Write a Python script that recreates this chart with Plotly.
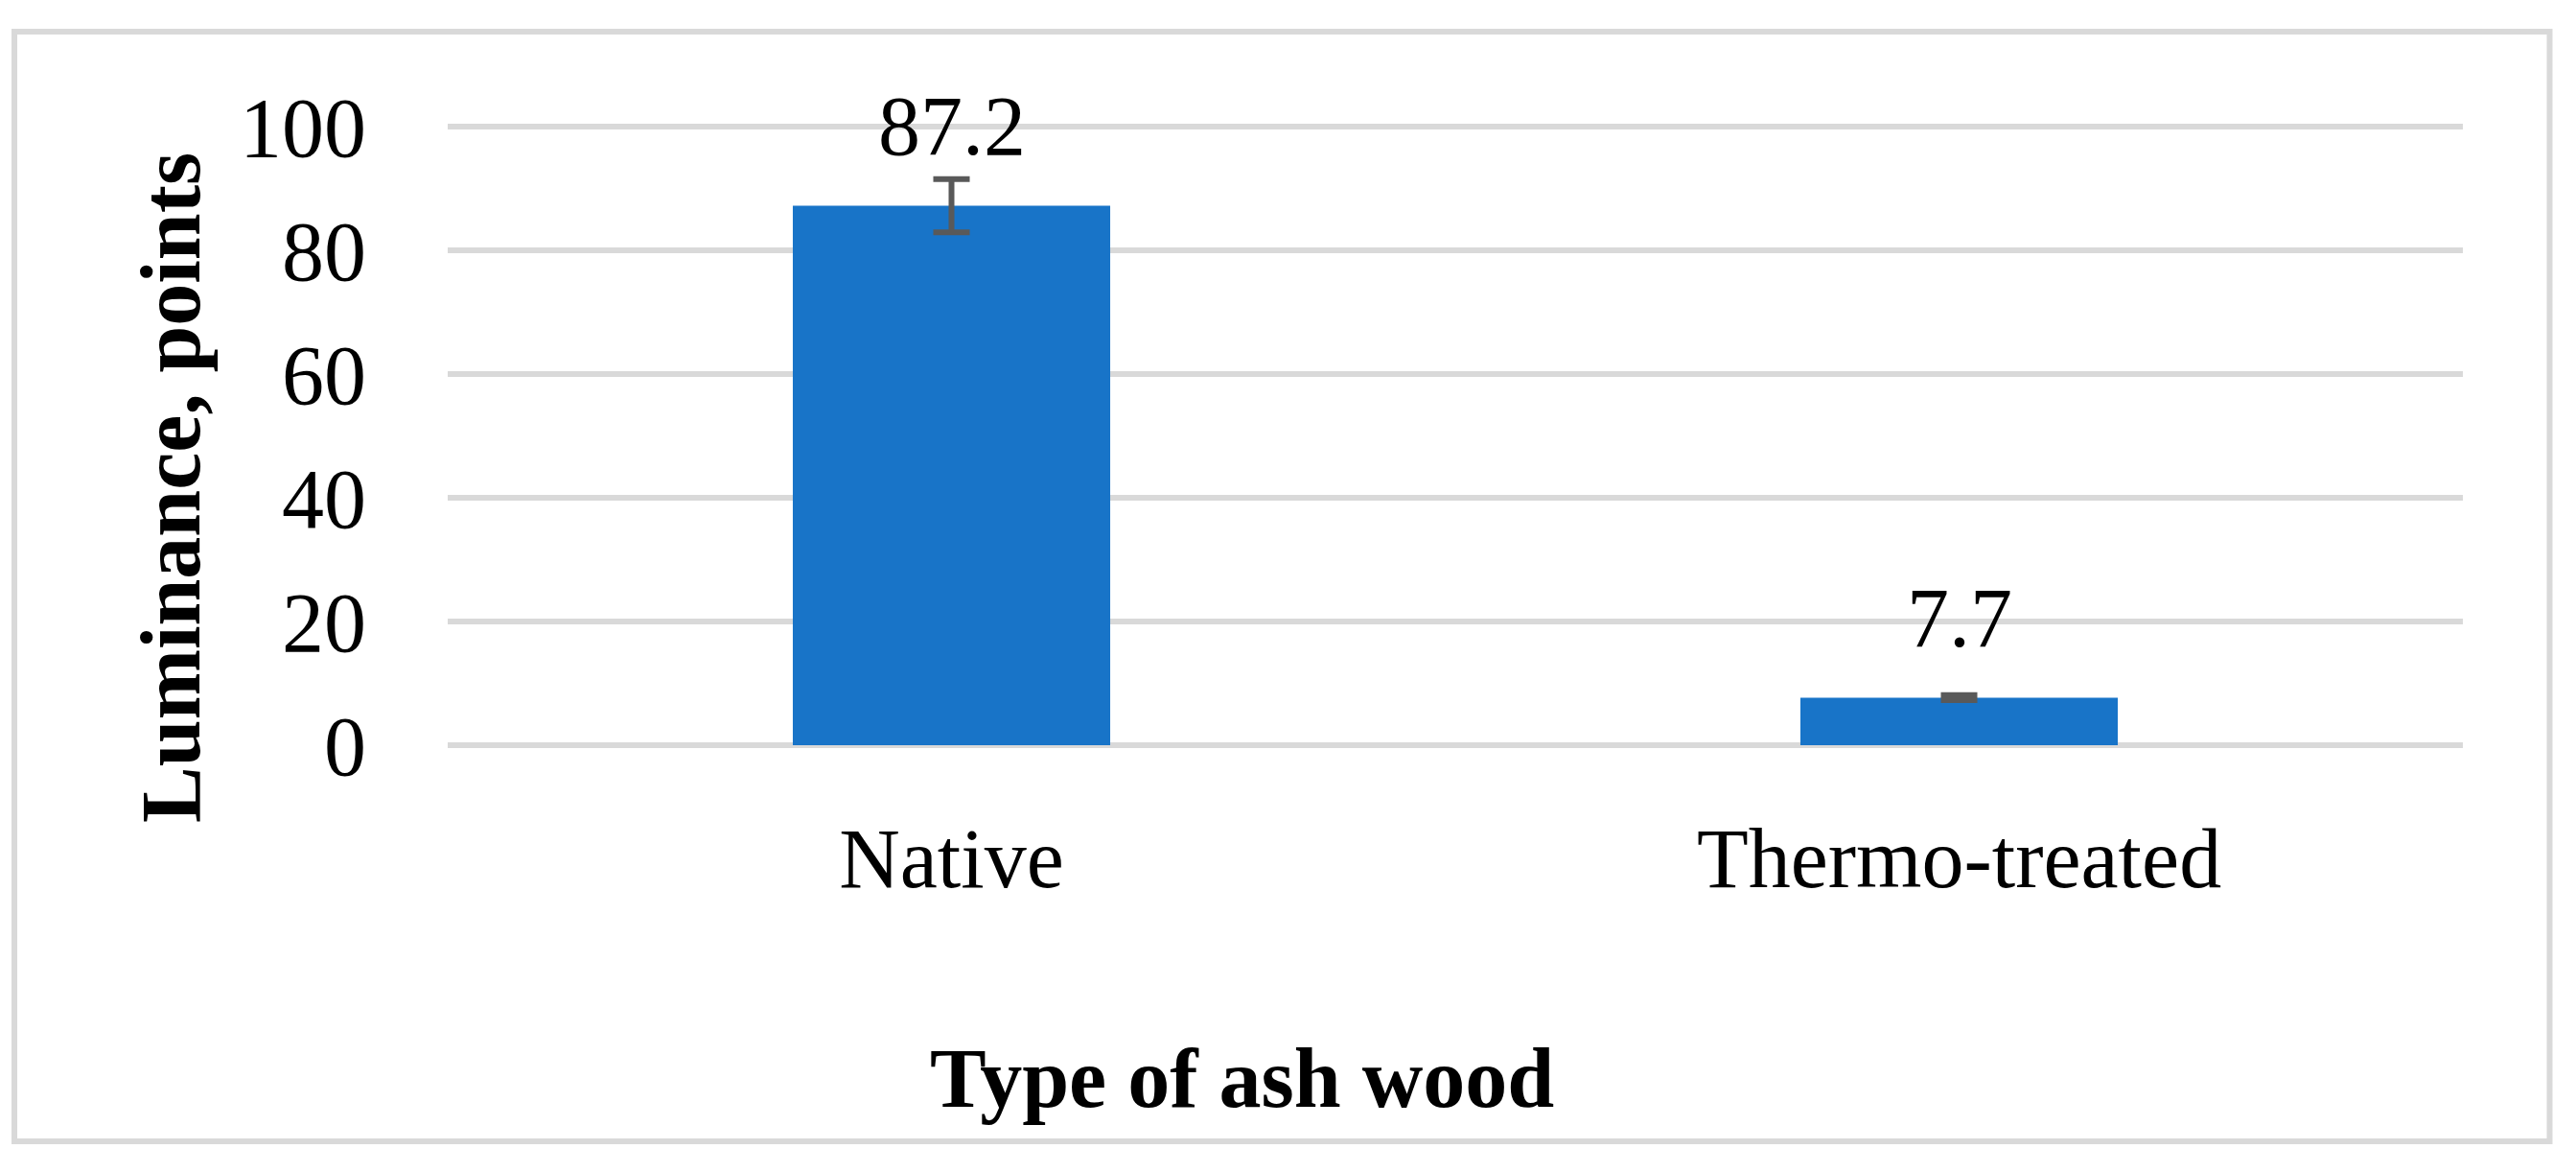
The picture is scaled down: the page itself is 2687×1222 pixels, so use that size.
import plotly.graph_objects as go

# ---- data ----
categories = ["Native", "Thermo-treated"]
luminance = [87.2, 7.7]
errors = [4.3, 0.4]
y_ticks = [0, 20, 40, 60, 80, 100]
x_title = "Type of ash wood"
y_title = "Luminance, points"

# ---- layout constants (pixels) ----
OFF = 8  # default page body margin
W, H = 2687 - OFF, 1222 - OFF
ML, MR, MT, MB = 467 - OFF, 118, 106 - OFF, 432
PW, PH = W - ML - MR, H - MT - MB
FONT = "Liberation Serif"
GRID = "#d9d9d9"


def px_x(px):
    return (px - OFF - ML) / PW


def px_y(py):
    return (H - MB - (py - OFF)) / PH


fig = go.Figure()
fig.add_trace(go.Bar(
    x=categories,
    y=luminance,
    width=0.315,
    marker=dict(color="#1874c8", line=dict(width=0)),
    error_y=dict(type="data", array=errors, visible=True,
                 color="#595959", thickness=6, width=19),
    hoverinfo="skip",
))

for c, v in zip(categories, luminance):
    fig.add_annotation(x=c, y=v, text=f"{v}", showarrow=False,
                       xref="x", yref="y", yanchor="bottom", yshift=32,
                       font=dict(family=FONT, size=88, color="black"))

fig.add_annotation(text=f"<b>{x_title}</b>", xref="paper", yref="paper",
                   x=px_x(1295), y=px_y(1124), xanchor="center", yanchor="middle",
                   showarrow=False, font=dict(family=FONT, size=88, color="black"))
fig.add_annotation(text=f"<b>{y_title}</b>", xref="paper", yref="paper",
                   x=px_x(178), y=px_y(509), xanchor="center", yanchor="middle",
                   textangle=-90, showarrow=False,
                   font=dict(family=FONT, size=88, color="black"))

# chart frame
fig.add_shape(type="rect", xref="paper", yref="paper",
              x0=px_x(15), x1=px_x(2659.5), y0=px_y(1190), y1=px_y(33),
              line=dict(color=GRID, width=6), fillcolor="rgba(0,0,0,0)", layer="below")

fig.update_layout(
    width=W, height=H,
    margin=dict(l=ML, r=MR, t=MT, b=MB, pad=0),
    paper_bgcolor="white", plot_bgcolor="white",
    showlegend=False,
    font=dict(family=FONT, size=88, color="black"),
    xaxis=dict(showgrid=False, showline=False, zeroline=False, ticks="",
               ticklabelstandoff=46,
               tickfont=dict(family=FONT, size=88, color="black")),
    yaxis=dict(range=[-2, 104], tickvals=y_ticks, showgrid=True, gridcolor=GRID,
               gridwidth=6, zeroline=False, showline=False, ticks="",
               ticklabelstandoff=84,
               tickfont=dict(family=FONT, size=88, color="black")),
)

fig.write_html("out.html")
